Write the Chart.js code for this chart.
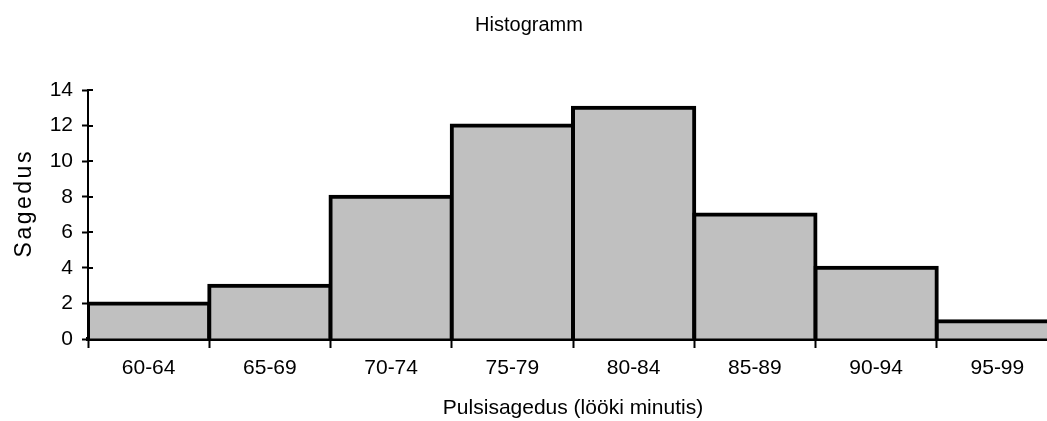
<!DOCTYPE html>
<html>
<head>
<meta charset="utf-8">
<title>Histogramm</title>
<script src="https://cdn.jsdelivr.net/npm/chart.js@4.4.1/dist/chart.umd.min.js"></script>
<style>
  html, body { margin: 0; padding: 0; background: #ffffff; overflow: hidden; }
  #wrap { width: 1047px; height: 421px; overflow: hidden; }
  canvas { display: block; }
</style>
</head>
<body>
<div id="wrap"><canvas id="hist" width="1062" height="421"></canvas></div>
<script>
// Pulse-rate classes (beats per minute) and how many people fell in each
const categories = ['60-64', '65-69', '70-74', '75-79', '80-84', '85-89', '90-94', '95-99'];
const frequencies = [2, 3, 8, 12, 13, 7, 4, 1];
const yTicks = [0, 2, 4, 6, 8, 10, 12, 14];

const chartTitle = 'Histogramm';
const xTitle = 'Pulsisagedus (lööki minutis)';
const yTitle = 'Sagedus';

const FONT = '"Liberation Sans", Arial, sans-serif';

// Tick marks cross the y axis: the outer half comes from the scale,
// this draws the inner half before the bars so the bars cover it.
const innerTicks = {
  id: 'innerTicks',
  beforeDatasetsDraw(chart) {
    const { ctx, chartArea } = chart;
    const y = chart.scales.y;
    ctx.save();
    ctx.strokeStyle = '#000';
    ctx.lineWidth = 2;
    y.ticks.forEach(t => {
      const py = Math.round(y.getPixelForValue(t.value));
      ctx.beginPath();
      ctx.moveTo(chartArea.left, py);
      ctx.lineTo(chartArea.left + 5, py);
      ctx.stroke();
    });
    ctx.restore();
  }
};

// Vertical axis caption, set a little wider than the normal letter spacing
const yCaption = {
  id: 'yCaption',
  afterDraw(chart) {
    const { ctx, chartArea } = chart;
    const spacing = 2.5;
    ctx.save();
    ctx.font = '23px ' + FONT;
    ctx.fillStyle = '#000';
    ctx.letterSpacing = spacing + 'px';
    const w = ctx.measureText(yTitle).width - spacing;
    const cy = (chartArea.top + chartArea.bottom) / 2 - 10;
    ctx.translate(31, cy);
    ctx.rotate(-Math.PI / 2);
    ctx.textAlign = 'left';
    ctx.textBaseline = 'alphabetic';
    ctx.fillText(yTitle, -w / 2, 0);
    ctx.restore();
  }
};

new Chart(document.getElementById('hist'), {
  type: 'bar',
  data: {
    labels: categories,
    datasets: [{
      label: yTitle,
      data: frequencies,
      backgroundColor: '#c0c0c0',
      borderColor: '#000000',
      borderWidth: 4,
      inflateAmount: 2,
      barPercentage: 1.0,
      categoryPercentage: 1.0
    }]
  },
  options: {
    responsive: false,
    animation: false,
    devicePixelRatio: 1,
    layout: { padding: { left: 0, right: 4, top: 0, bottom: 0 } },
    plugins: {
      legend: { display: false },
      tooltip: { enabled: false },
      title: {
        display: true,
        text: chartTitle,
        color: '#000',
        font: { family: FONT, size: 20, weight: 'normal' },
        padding: { top: 13, bottom: 53 }
      }
    },
    scales: {
      x: {
        z: 1,
        offset: true,
        grid: {
          offset: true,
          drawOnChartArea: false,
          drawTicks: true,
          tickLength: 9,
          tickWidth: 2,
          tickColor: '#000'
        },
        border: { display: true, color: '#000', width: 4 },
        ticks: {
          color: '#000',
          font: { family: FONT, size: 21 },
          padding: 8,
          maxRotation: 0,
          autoSkip: false
        },
        title: {
          display: true,
          text: xTitle,
          color: '#000',
          font: { family: FONT, size: 21 },
          padding: { top: 0, bottom: 0 }
        },
        afterFit(scale) { scale.height = 82; }
      },
      y: {
        z: 1,
        min: 0,
        max: 14,
        grid: {
          drawOnChartArea: false,
          drawTicks: true,
          tickLength: 6,
          tickWidth: 2,
          tickColor: '#000'
        },
        border: { display: true, color: '#000', width: 2 },
        afterBuildTicks(scale) { scale.ticks = yTicks.map(v => ({ value: v })); },
        ticks: {
          color: '#000',
          font: { family: FONT, size: 21 },
          padding: 9
        },
        title: { display: false },
        afterFit(scale) { scale.width = 88; }
      }
    }
  },
  plugins: [innerTicks, yCaption]
});
</script>
</body>
</html>
